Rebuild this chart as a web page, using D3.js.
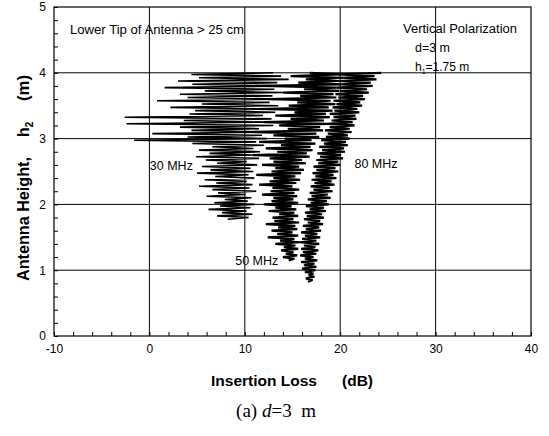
<!DOCTYPE html>
<html><head><meta charset="utf-8">
<script src="https://cdn.jsdelivr.net/npm/d3@7"></script>
<style>
body{margin:0;background:#fff;}
svg{display:block;font-family:"Liberation Sans",Arial,sans-serif;}
</style></head>
<body>
<svg id="chart" width="549" height="436"></svg>
<script>
// ---------- data ----------
const xTicks = [-10, 0, 10, 20, 30, 40];
const yTicks = [0, 1, 2, 3, 4, 5];
const seriesNames = ["30 MHz", "50 MHz", "80 MHz"];
// heights sampled every 0.025 m starting at these values (m)
const startHeights = [1.775, 1.15, 0.825];
const heightStep = 0.025;
// insertion loss (dB), bottom -> top
const loss30 = [
 8.2,10.4,7.1,10.8,7.6,10.2,6.2,10.6,7.4,11.0,
 6.8,10.3,7.9,10.7,6.0,10.1,7.2,11.2,6.6,10.5,
 5.2,10.8,7.0,10.2,5.8,11.0,6.9,10.4,5.0,10.9,
 6.4,10.6,5.5,11.3,7.1,10.2,5.9,11.5,4.9,10.8,
 6.3,11.6,5.2,10.9,6.6,12.0,4.5,11.2,-1.6,12.3,
 4.0,11.8,0.3,12.6,4.4,11.5,3.2,13.0,-2.4,12.2,
 3.6,12.8,-2.6,11.9,4.2,13.2,4.8,12.4,2.2,13.5,
 5.5,12.6,0.8,13.8,4.0,12.9,3.2,14.0,5.8,13.1,
 1.6,14.2,4.5,13.4,3.0,14.6,5.2,13.8,4.4,13.0];
const loss50 = [
 14.6,15.2,14.0,15.5,14.3,15.1,13.8,15.6,14.1,15.3,
 13.2,15.7,13.7,15.2,12.4,15.6,13.4,15.0,12.8,15.5,
 13.5,15.3,12.2,15.7,13.1,15.1,12.9,15.6,13.6,15.2,
 12.5,15.4,13.2,14.9,12.0,15.6,12.8,15.1,13.0,15.5,
 11.8,15.2,12.7,15.7,12.9,15.0,11.5,15.4,12.6,15.8,
 13.0,15.3,11.2,15.9,12.8,16.2,13.2,15.7,11.8,16.4,
 13.0,16.0,12.6,16.8,10.8,16.5,13.4,17.1,12.2,16.9,
 13.8,17.4,11.5,17.0,14.2,17.8,13.0,17.5,10.6,18.2,
 14.5,17.9,13.6,18.6,12.0,18.3,14.8,18.9,13.2,18.5,
 15.2,19.2,11.4,18.8,14.6,19.5,15.5,19.0,12.5,19.6,
 15.8,19.3,14.0,19.9,16.2,19.6,11.8,20.1,15.6,19.8,
 16.4,20.3,14.8,20.0,16.8];
const loss80 = [
 16.6,17.1,16.4,17.3,16.7,17.2,16.3,17.4,16.0,17.5,
 16.2,17.3,15.9,17.6,16.3,17.2,15.8,17.5,16.1,17.7,
 15.9,17.4,16.2,17.8,15.7,17.5,16.0,17.9,16.3,17.6,
 15.9,18.0,16.4,17.8,16.1,18.2,16.6,17.9,16.2,18.3,
 16.5,18.1,16.3,18.5,16.8,18.3,16.4,18.8,16.9,18.6,
 16.6,19.0,17.0,18.7,16.8,19.2,17.2,18.9,16.9,19.4,
 17.3,19.1,17.0,19.6,17.4,19.3,17.1,19.8,17.5,19.5,
 17.2,20.0,17.7,19.8,17.5,20.3,17.9,20.1,17.6,20.5,
 18.1,20.4,17.8,20.8,18.3,20.6,18.0,21.0,18.5,20.8,
 18.7,21.2,18.4,21.0,18.9,21.5,18.6,21.3,19.1,21.7,
 19.3,21.6,18.9,22.0,19.4,21.8,19.2,22.3,19.6,22.1,
 19.3,22.6,19.8,22.4,19.5,23.0,20.0,22.8,19.6,23.4,
 20.1,23.2,19.7,23.8,20.2,23.6,19.8,24.3];
const lossSeries = [loss30, loss50, loss80];
// label anchor points (loss dB, height m)
const labelPos = [[0.05, 2.52], [9.0, 1.08], [21.5, 2.56]];

// ---------- chart ----------
const svg = d3.select("#chart");
const x = d3.scaleLinear().domain([-10, 40]).range([54, 531]);
const y = d3.scaleLinear().domain([0, 5]).range([336, 7]);

// grid lines
const grid = svg.append("g").attr("stroke", "#000").attr("stroke-width", 1);
xTicks.slice(1, -1).forEach(v => grid.append("line")
  .attr("x1", x(v)).attr("x2", x(v)).attr("y1", y(0)).attr("y2", y(5)));
yTicks.slice(1, -1).forEach(v => grid.append("line")
  .attr("y1", y(v)).attr("y2", y(v)).attr("x1", x(-10)).attr("x2", x(40)));

// series
const line = d3.line().x(d => x(d[1])).y(d => y(d[0]));
const widths = [1.6, 2.2, 2.2];
lossSeries.forEach((arr, k) => {
  const pts = arr.map((v, i) => [startHeights[k] + i * heightStep, v]);
  svg.append("path").datum(pts).attr("d", line)
    .attr("fill", "none").attr("stroke", "#000").attr("stroke-width", widths[k])
    .attr("stroke-linejoin", "miter").attr("stroke-miterlimit", 2);
});

// frame
svg.append("rect").attr("x", x(-10)).attr("y", y(5))
  .attr("width", x(40) - x(-10)).attr("height", y(0) - y(5))
  .attr("fill", "none").attr("stroke", "#000").attr("stroke-width", 1.2);

// axes
const fmt = d => String(d);
const xAxis = svg.append("g").attr("transform", `translate(0,${y(0)})`)
  .call(d3.axisBottom(x).tickValues(xTicks).tickSize(0).tickPadding(8).tickFormat(fmt));
const yAxis = svg.append("g").attr("transform", `translate(${x(-10)},0)`)
  .call(d3.axisLeft(y).tickValues(yTicks).tickSize(0).tickPadding(8).tickFormat(fmt));
[xAxis, yAxis].forEach(a => {
  a.select(".domain").remove();
  a.selectAll("text").attr("font-size", 12).attr("font-family", "Liberation Sans, Arial, sans-serif").attr("fill", "#000");
});
// minor ticks
svg.append("g").attr("transform", `translate(0,${y(0)})`)
  .call(d3.axisBottom(x).tickValues(d3.range(-10, 41, 2)).tickSize(-4).tickFormat(""))
  .call(g => g.select(".domain").remove());
svg.append("g").attr("transform", `translate(${x(-10)},0)`)
  .call(d3.axisLeft(y).tickValues(d3.range(0, 5.01, 0.2)).tickSize(-4).tickFormat(""))
  .call(g => g.select(".domain").remove());

// labels in plot
seriesNames.forEach((name, k) => {
  svg.append("text").attr("x", x(labelPos[k][0])).attr("y", y(labelPos[k][1]))
    .attr("font-size", 12).attr("textLength", 43).attr("lengthAdjust", "spacingAndGlyphs")
    .attr("fill", "#000").text(name);
});
svg.append("text").attr("x", 70).attr("y", 34).attr("font-size", 12)
  .attr("textLength", 174).attr("lengthAdjust", "spacingAndGlyphs").text("Lower Tip of Antenna > 25 cm");
svg.append("text").attr("x", 403).attr("y", 33).attr("font-size", 12)
  .attr("textLength", 114).attr("lengthAdjust", "spacingAndGlyphs").text("Vertical Polarization");
svg.append("text").attr("x", 415).attr("y", 52).attr("font-size", 12)
  .attr("textLength", 35).attr("lengthAdjust", "spacingAndGlyphs").text("d=3 m");
const ht = svg.append("text").attr("x", 415).attr("y", 71).attr("font-size", 12);
ht.append("tspan").text("h");
ht.append("tspan").attr("font-size", 7).attr("dy", 3).text("1");
ht.append("tspan").attr("dy", -3).text("=1.75 m");

// axis titles
svg.append("text").attr("x", 211).attr("y", 386).attr("font-size", 14).attr("font-weight", "bold")
  .attr("textLength", 106).attr("lengthAdjust", "spacingAndGlyphs").text("Insertion Loss");
svg.append("text").attr("x", 342).attr("y", 386).attr("font-size", 14).attr("font-weight", "bold")
  .attr("textLength", 31).attr("lengthAdjust", "spacingAndGlyphs").text("(dB)");
const yTitle = svg.append("g").attr("font-size", 16).attr("font-weight", "bold");
yTitle.append("text").attr("transform", "translate(29,281) rotate(-90)")
  .attr("textLength", 124).attr("lengthAdjust", "spacingAndGlyphs").text("Antenna Height,");
const h2 = yTitle.append("text").attr("transform", "translate(29,137) rotate(-90)");
h2.append("tspan").text("h");
h2.append("tspan").attr("font-size", 10).attr("dy", 4).text("2");
yTitle.append("text").attr("transform", "translate(29,101) rotate(-90)")
  .attr("textLength", 26).attr("lengthAdjust", "spacingAndGlyphs").text("(m)");

// caption
const cap = svg.append("text").attr("x", 276).attr("y", 417).attr("text-anchor", "middle")
  .attr("font-family", "Liberation Serif, Times New Roman, serif").attr("font-size", 19)
  .style("white-space", "pre");
cap.append("tspan").text("(a) ");
cap.append("tspan").attr("font-style", "italic").text("d");
cap.append("tspan").text("=3  m");
</script>
</body></html>
